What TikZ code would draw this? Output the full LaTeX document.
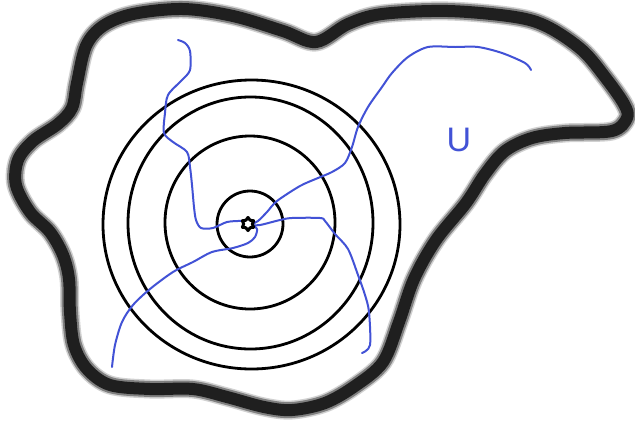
\documentclass[tikz,border=0pt]{standalone}
\usepackage{fontspec}
\setmainfont{Liberation Sans}
\usetikzlibrary{shapes.geometric}
\definecolor{penblue}{RGB}{66,82,214}
\tikzset{
  ring/.style={draw=black, line width=2.8pt},
  bluecurve/.style={draw=penblue, line width=2pt, line cap=round, line join=round},
  outlinehalo/.style={draw=black!18, line width=19pt, line join=round},
  outlinemid/.style={draw=black!50, line width=16pt, line join=round},
  outlinecore/.style={draw=black!88, line width=12pt, line join=round},
}
\begin{document}
\begin{tikzpicture}[x=1pt, y=-1pt]
\useasboundingbox (0,0) rectangle (635,424);
\fill[white] (0,0) rectangle (635,424);
% fuzzy outline of U
\def\blob{plot[smooth cycle, tension=0.55] coordinates {
 (133,14) (183,9) (233,16) (283,31) (316,42) (348,24) (382,14) (448,11) (515,17) (548,27)
 (582,50) (605,77) (624,104) (627,118) (612,131) (565,133) (532,138) (505,151) (485,174)
 (466,203) (436,240) (414,279) (399,322) (383,362) (355,386) (325,403) (292,410) (264,407)
 (227,397) (193,389) (150,389) (110,385) (87,369) (74,345) (70,312) (69,279) (63,255)
 (50,232) (30,212) (16,185) (18,160) (33,141) (58,124) (72,108) (77,83) (86,46) (103,26)}}
\draw[outlinehalo] \blob;
\draw[outlinemid] \blob;
\draw[outlinecore] \blob;
% rings
\draw[ring] (251.5,224.5) ellipse [x radius=148.5, y radius=144.5];
\draw[ring] (250.5,223) ellipse [x radius=122.5, y radius=126];
\draw[ring] (250,222.5) ellipse [x radius=85, y radius=86.5];
\draw[ring] (250,224) ellipse [x radius=33, y radius=33];
% blue curves
\draw[bluecurve] plot[smooth, tension=0.5] coordinates {
 (178,40) (185,43) (190,51) (190,70) (182,80) (168,95) (165,113) (164,133) (173,142)
 (187,152) (190,167) (192,185) (194,207) (196,220) (201,228) (213,228) (227,222) (242,221) (248,223)};
\draw[bluecurve] plot[smooth, tension=0.5] coordinates {
 (112,367) (115,345) (122,322) (133,305) (150,289) (173,272) (193,262) (212,252)
 (233,248) (248,243) (255,237) (257,229) (252,225)};
\draw[bluecurve] plot[smooth, tension=0.5] coordinates {
 (250,225) (260,225) (280,220) (292,218) (320,218) (325,221) (335,234) (348,249)
 (358,275) (365,295) (369,312) (370,345) (362,353)};
\draw[bluecurve] plot[smooth, tension=0.5] coordinates {
 (252,224) (258,221) (267,212) (277,201) (300,186) (318,178) (332,172) (345,163)
 (352,147) (358,127) (368,107) (382,87) (392,73) (408,57) (428,47) (455,47) (478,47)
 (502,53) (525,63) (531,70)};
% centre star
\node[star, star points=6, star point ratio=1.5, draw=black, line width=3pt, line join=round,
      minimum size=13pt, inner sep=0pt, fill=white] (ctr) at (248,224) {};
\node[text=penblue, font=\fontsize{34}{40}\selectfont, inner sep=0pt] (ulabel) at (459,140) {U};
\end{tikzpicture}
\end{document}
